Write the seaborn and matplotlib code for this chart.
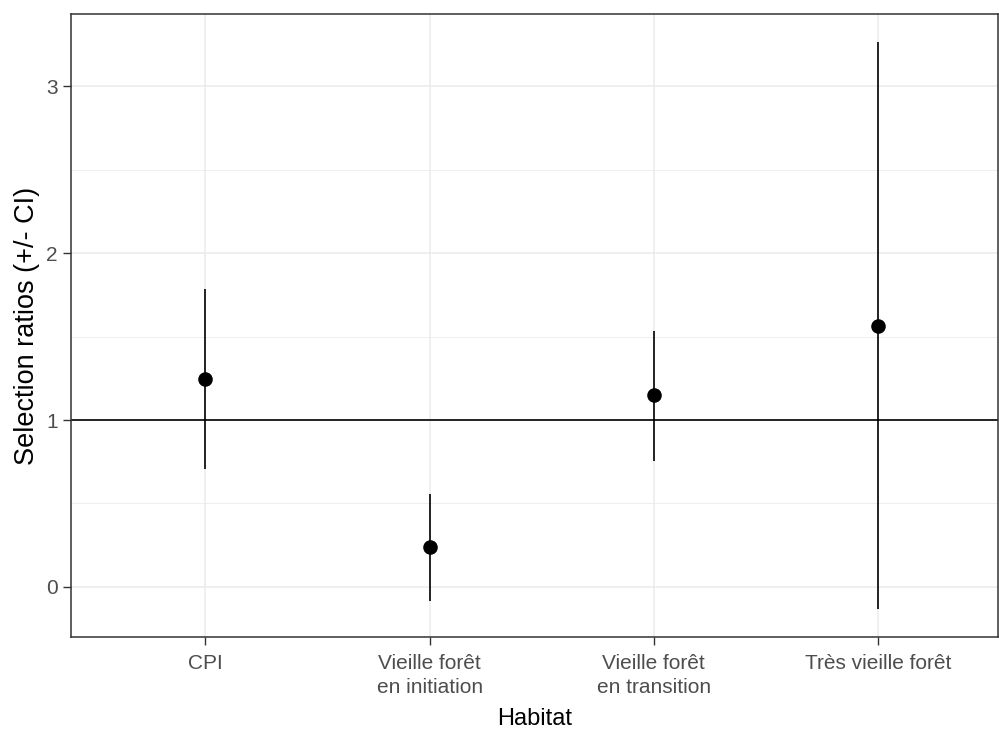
import matplotlib
matplotlib.use("Agg")
import matplotlib.pyplot as plt
import pandas as pd
import seaborn as sns
from matplotlib.ticker import MultipleLocator

habitats = ["CPI", "Vieille forêt\nen initiation", "Vieille forêt\nen transition", "Très vieille forêt"]
ratio = [1.245, 0.241, 1.150, 1.563]
ci_low = [0.707, -0.082, 0.756, -0.134]
ci_high = [1.784, 0.557, 1.535, 3.265]

df = pd.DataFrame({"Habitat": habitats, "ratio": ratio, "low": ci_low, "high": ci_high})
df["pos"] = range(len(df))

sns.set_theme(style="white")
plt.rcParams["font.family"] = ["Liberation Sans", "DejaVu Sans"]

fig = plt.figure(figsize=(9.99, 7.30), dpi=100)
ax = fig.add_axes([71 / 999, 1 - 637 / 730, (998 - 71) / 999, (637 - 14) / 730])

ax.set_xlim(-0.6, 3.536)
ax.set_ylim(-0.30, 3.433)

# grid like theme_bw
ax.yaxis.set_major_locator(MultipleLocator(1))
ax.yaxis.set_minor_locator(MultipleLocator(0.5))
ax.grid(which="major", color="#ebebeb", lw=1.1)
ax.grid(which="minor", axis="y", color="#ebebeb", lw=0.6)
ax.set_axisbelow(True)

ax.axhline(1, color="black", lw=1.2, zorder=2)
ax.vlines(df["pos"], df["low"], df["high"], color="black", lw=1.2, zorder=3)
sns.scatterplot(data=df, x="pos", y="ratio", color="black", s=110, edgecolor="black",
                linewidth=0, zorder=4, ax=ax)

ax.set_xticks(df["pos"])
ax.set_xticklabels(df["Habitat"], linespacing=1.32)
ax.set_yticks([0, 1, 2, 3])
ax.tick_params(axis="both", which="major", length=5.5, width=1, color="#333333",
               labelcolor="#4d4d4d", labelsize=15, direction="out")
ax.tick_params(axis="x", pad=7)
ax.tick_params(axis="y", pad=4)
ax.tick_params(which="minor", length=0)
ax.tick_params(axis="x", bottom=True)
ax.tick_params(axis="y", left=True)
for s in ax.spines.values():
    s.set_color("#333333")
    s.set_linewidth(1.1)
    s.set_visible(True)

ax.set_xlabel("Habitat", fontsize=17, color="black", labelpad=8)
ax.set_ylabel("Selection ratios (+/- CI)", fontsize=19.5, color="black", labelpad=4)

plt.savefig("out.png", dpi=100)
plt.close()
